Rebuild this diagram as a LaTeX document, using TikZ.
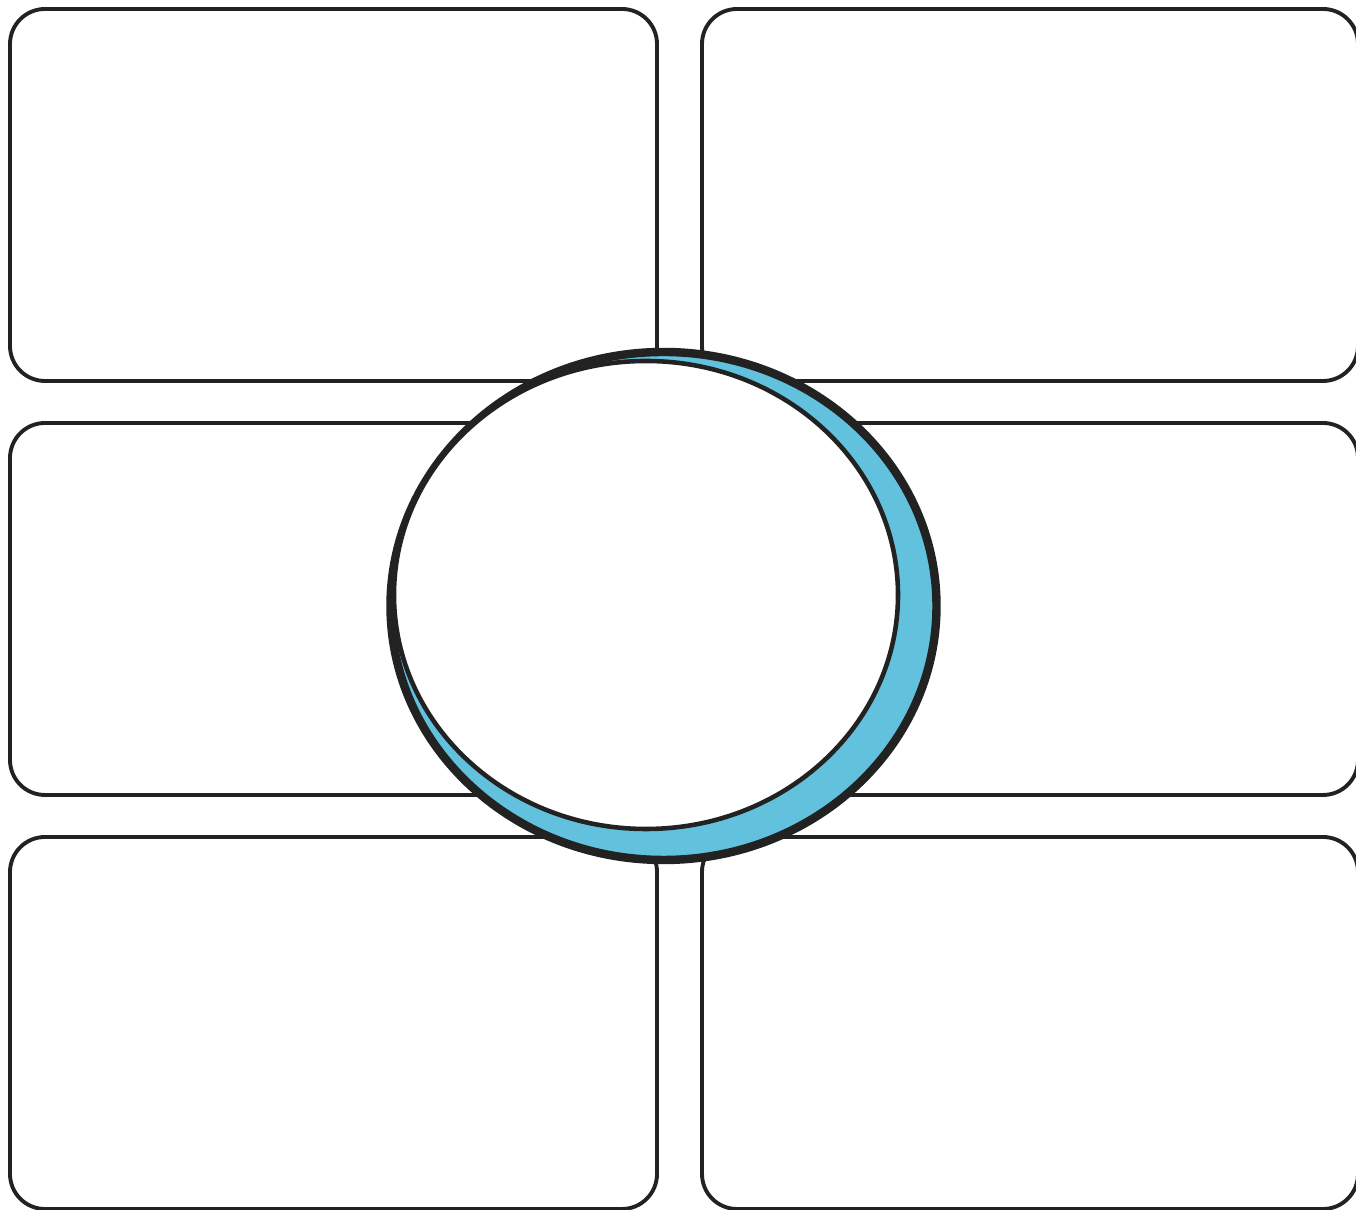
\documentclass[tikz,border=0pt]{standalone}
\usepackage{xcolor}
\usepackage{tikz}
\usetikzlibrary{shapes.geometric, positioning}
\definecolor{inkdark}{HTML}{222222}
\definecolor{shadeblue}{HTML}{62C1DC}
\tikzstyle{panel} = [rectangle, rounded corners=0.35cm, minimum height=3.72cm, inner sep=0pt, outer sep=0pt, draw=inkdark, line width=1.1pt, fill=white]
\tikzstyle{panelL} = [panel, minimum width=6.47cm]
\tikzstyle{panelR} = [panel, minimum width=6.56cm]
\tikzstyle{ring} = [ellipse, minimum width=5.46cm, minimum height=5.08cm, inner sep=0pt, draw=inkdark, line width=2.4pt, fill=shadeblue]
\tikzstyle{hub} = [ellipse, minimum width=5.04cm, minimum height=4.68cm, inner sep=0pt, draw=inkdark, line width=1.3pt, fill=white]

\begin{document}
\begin{tikzpicture}[node distance=0.42cm and 0.45cm]
\useasboundingbox (0,0) rectangle (13.56,12.10);
\node (lt) [panelL] at (3.335,10.15) {};
\node (lm) [panelL, below=of lt] {};
\node (lb) [panelL, below=of lm] {};
\node (rt) [panelR, right=of lt] {};
\node (rm) [panelR, right=of lm] {};
\node (rb) [panelR, right=of lb] {};

\node (ring) [ring] at (6.635,6.04) {};
\node (hub) [hub] at (6.46,6.15) {};
\end{tikzpicture}
\end{document}
